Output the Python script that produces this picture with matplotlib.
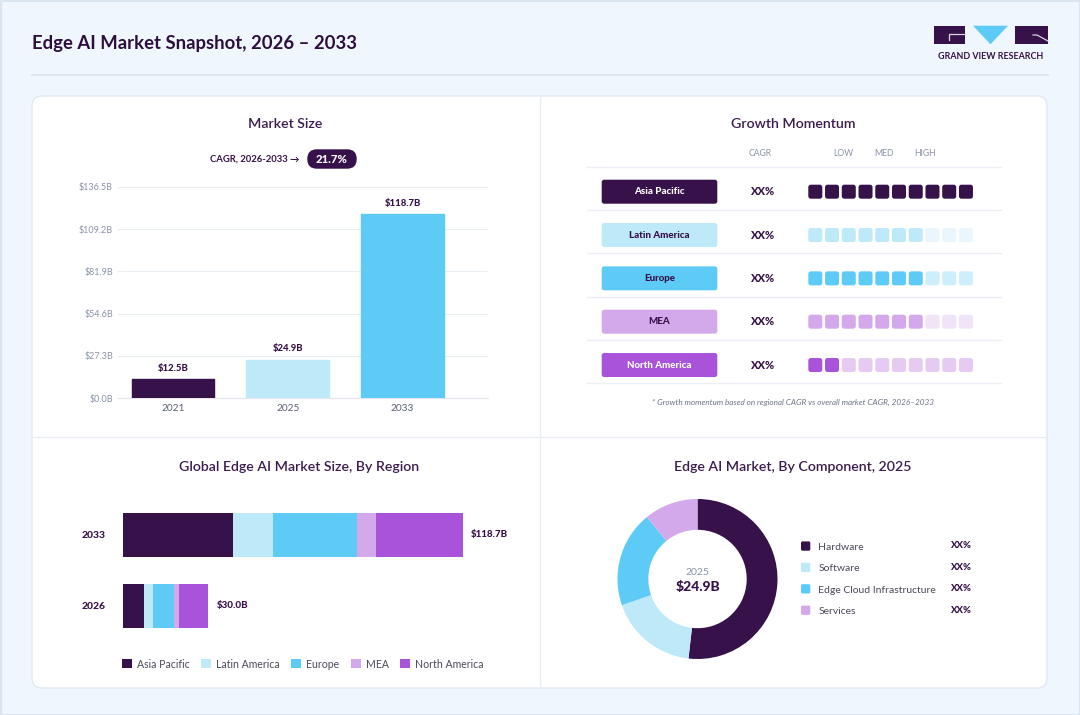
import matplotlib
matplotlib.use('Agg')
import matplotlib.pyplot as plt
from matplotlib.patches import FancyBboxPatch, Rectangle, Polygon

plt.rcParams['font.family'] = ['Lato', 'DejaVu Sans']

# ---------------- data ----------------
years = ['2021', '2025', '2033']
market_size = [12.5, 24.9, 118.7]
market_labels = ['$12.5B', '$24.9B', '$118.7B']
y_ticks = [0.0, 27.3, 54.6, 81.9, 109.2, 136.5]
cagr_text = 'CAGR, 2026-2033 \u2192'
cagr_value = '21.7%'

regions = ['Asia Pacific', 'Latin America', 'Europe', 'MEA', 'North America']
momentum_filled = [10, 7, 7, 7, 2]
momentum_total = 10
region_cagr = ['XX%', 'XX%', 'XX%', 'XX%', 'XX%']
momentum_headers = ['LOW', 'MED', 'HIGH']

stack_years = ['2026', '2033']
stack_values = {
    '2026': [7.3, 3.4, 7.1, 1.7, 10.4],
    '2033': [38.4, 13.9, 29.6, 6.4, 30.5],
}
stack_totals = {'2026': '$30.0B', '2033': '$118.7B'}

components = ['Hardware', 'Software', 'Edge Cloud Infrastructure', 'Services']
component_share = [51.8, 17.9, 19.4, 10.9]
component_labels = ['XX%', 'XX%', 'XX%', 'XX%']
donut_year = '2025'
donut_total = '$24.9B'

# ---------------- styles ----------------
DARK = '#371149'
LIGHT = '#bde9f9'
SKY = '#5ecbf6'
LAV = '#d4a9ec'
PURP = '#a853da'
region_colors = [DARK, LIGHT, SKY, LAV, PURP]
region_empty = [DARK, '#eaf6fd', '#cdeefb', '#f1e3f8', '#e6caf2']
region_text = ['white', DARK, DARK, DARK, 'white']
comp_colors = [DARK, LIGHT, SKY, LAV]
TITLE_C = '#3b1d4f'
GRAY = '#8a93a6'
BG = '#eff6fd'
HEAVY = 'black'

W, H = 1080, 715
fig = plt.figure(figsize=(W / 100, H / 100), dpi=100, facecolor=BG)


def rect(l, t, r, b):
    return [l / W, 1 - b / H, (r - l) / W, (b - t) / H]


bg = fig.add_axes([0, 0, 1, 1])
bg.set_xlim(0, W)
bg.set_ylim(H, 0)
bg.axis('off')

# frame and card
bg.add_patch(Rectangle((0.5, 0.5), W - 1, H - 1, fill=False, edgecolor='#dbe5f0', lw=1.5))
bg.add_patch(FancyBboxPatch((32, 96), 1015, 592, boxstyle='round,pad=0,rounding_size=10',
                            facecolor='white', edgecolor='#e1e8f1', lw=1))
bg.plot([540, 540], [97, 687], color='#e9edf3', lw=1)
bg.plot([33, 1046], [437, 437], color='#e9edf3', lw=1)

# header
bg.text(32, 44, 'Edge AI Market Snapshot, 2026 \u2013 2033', ha='left', va='center',
        fontsize=13.3, fontweight='bold', color='#2d0f3f')
bg.plot([32, 1048], [75, 75], color='#dde4ee', lw=1.3)

# logo
bg.add_patch(Rectangle((934, 25.7), 31, 18.6, facecolor=DARK, edgecolor='none'))
bg.plot([949.3, 949.3, 965], [40, 34.3, 34.3], color='#d9d2e0', lw=0.9)
bg.add_patch(Polygon([(973, 25.7), (1008, 25.7), (990.5, 44.3)], closed=True,
                     facecolor=SKY, edgecolor='none'))
bg.add_patch(Rectangle((1015, 25.7), 33, 18.6, facecolor=DARK, edgecolor='none'))
bg.plot([1033, 1037, 1048], [35, 35, 41], color='#d9d2e0', lw=0.9)
bg.text(991, 56.7, 'GRAND VIEW RESEARCH', ha='center', va='center', fontsize=6.4,
        fontweight='bold', color=DARK)

# ---------------- Market size ----------------
bg.text(285, 124, 'Market Size', ha='center', va='center', fontsize=10.2,
        fontweight='semibold', color=TITLE_C)
bg.text(300, 159, cagr_text, ha='right', va='center', fontsize=6.8,
        fontweight='bold', color=DARK)
bg.add_patch(FancyBboxPatch((307.3, 149.3), 49.4, 19.4, boxstyle='round,pad=0,rounding_size=9.5',
                            facecolor=DARK, edgecolor='none'))
bg.text(332, 159.3, cagr_value, ha='center', va='center', fontsize=8.2,
        fontweight=HEAVY, color='white')

ax1 = fig.add_axes(rect(118, 186.7, 488, 398.3))
xs = list(range(len(years)))
bars = ax1.bar(xs, market_size, width=0.72, color=region_colors[:3],
               edgecolor=region_colors[:3], linewidth=1.0, joinstyle='round', zorder=3)
ax1.set_xlim(-0.478, 2.743)
ax1.set_ylim(0, 136.5)
ax1.set_yticks(y_ticks)
ax1.set_yticklabels([f'${v:.1f}B' for v in y_ticks])
ax1.set_xticks(xs)
ax1.set_xticklabels(years)
ax1.tick_params(axis='y', length=0, pad=3.6, labelsize=6.5, labelcolor=GRAY)
ax1.tick_params(axis='x', length=0, pad=4.0, labelsize=7.3, labelcolor='#5a6275')
ax1.grid(axis='y', color='#e9eef5', lw=0.8, zorder=0)
for s in ['top', 'right', 'left']:
    ax1.spines[s].set_visible(False)
ax1.spines['bottom'].set_color('#e3e8f0')
ax1.set_facecolor('none')
for x, v, lab in zip(xs, market_size, market_labels):
    ax1.annotate(lab, (x, v), xytext=(0, 4.5), textcoords='offset points',
                 ha='center', va='bottom', fontsize=6.8, fontweight=HEAVY, color=DARK)

# ---------------- Growth momentum ----------------
bg.text(793, 124, 'Growth Momentum', ha='center', va='center', fontsize=10.2,
        fontweight='semibold', color=TITLE_C)
bg.text(760, 153.7, 'CAGR', ha='center', va='center', fontsize=6.2, color=GRAY)
for hx, htxt in zip([843.7, 883.7, 925], momentum_headers):
    bg.text(hx, 153.7, htxt, ha='center', va='center', fontsize=6.2, color=GRAY)
row_h = 43.33
for k in range(len(regions) + 1):
    yy = 166.7 + k * row_h
    bg.plot([586.7, 1001], [yy, yy], color='#eceff5', lw=1)
for i, (reg, nfill, cg) in enumerate(zip(regions, momentum_filled, region_cagr)):
    cy = 191.7 + i * row_h
    bg.add_patch(FancyBboxPatch((601.7, cy - 12), 115.6, 24, boxstyle='round,pad=0,rounding_size=2.5',
                                facecolor=region_colors[i], edgecolor='none'))
    bg.text(659.5, cy, reg, ha='center', va='center', fontsize=7, fontweight=HEAVY,
            color=region_text[i])
    bg.text(762, cy, cg, ha='center', va='center', fontsize=8, fontweight=HEAVY, color=DARK)
    for j in range(momentum_total):
        col = region_colors[i] if j < nfill else region_empty[i]
        bg.add_patch(FancyBboxPatch((808.3 + j * 16.74, cy - 7), 14, 14,
                                    boxstyle='round,pad=0,rounding_size=2.5',
                                    facecolor=col, edgecolor='none'))
bg.text(793, 402.7, '* Growth momentum based on regional CAGR vs overall market CAGR, 2026\u20132033',
        ha='center', va='center', fontsize=5.9, style='italic', color='#6b7385')

# ---------------- Stacked bars by region ----------------
bg.text(299, 466.7, 'Global Edge AI Market Size, By Region', ha='center', va='center',
        fontsize=10.2, fontweight='semibold', color=TITLE_C)
ax3 = fig.add_axes(rect(122.7, 500, 500, 640))
ax3.set_facecolor('none')
ypos = list(range(len(stack_years)))
lefts = [0.0] * len(stack_years)
handles = []
for r, reg in enumerate(regions):
    vals = [stack_values[y][r] for y in stack_years]
    h = ax3.barh(ypos, vals, left=lefts, height=0.62, color=region_colors[r],
                 edgecolor='none', label=reg)
    handles.append(h)
    lefts = [a + b for a, b in zip(lefts, vals)]
for yp, y, tot in zip(ypos, stack_years, lefts):
    ax3.text(tot + 2.8, yp, stack_totals[y], ha='left', va='center', fontsize=7,
             fontweight=HEAVY, color=DARK)
ax3.set_xlim(0, 131.72)
ax3.set_ylim(-0.479, 1.493)
ax3.set_yticks(ypos)
ax3.set_yticklabels(stack_years)
ax3.tick_params(axis='y', length=0, pad=12, labelsize=7.5, labelcolor=DARK)
for lab in ax3.get_yticklabels():
    lab.set_fontweight(HEAVY)
ax3.set_xticks([])
for s in ax3.spines.values():
    s.set_visible(False)
leg = ax3.legend(handles=handles, labels=regions, loc='center',
                 bbox_to_anchor=(303 / W, 1 - 664 / H), bbox_transform=fig.transFigure,
                 ncol=5, frameon=False, handlelength=0.9, handleheight=0.9,
                 handletextpad=0.5, columnspacing=1.1, fontsize=7.6)
for t in leg.get_texts():
    t.set_color('#4a4a5a')

# ---------------- Donut ----------------
bg.text(793, 466.7, 'Edge AI Market, By Component, 2025', ha='center', va='center',
        fontsize=10.2, fontweight='semibold', color=TITLE_C)
ax4 = fig.add_axes(rect(612.5, 494, 782.5, 664))
ax4.pie(component_share, colors=comp_colors, startangle=90, counterclock=False,
        radius=1.0, wedgeprops=dict(width=0.385, edgecolor='none', linewidth=0))
ax4.set_xlim(-1.0625, 1.0625)
ax4.set_ylim(-1.0625, 1.0625)
ax4.set_aspect('equal')
ax4.text(0, 0.08, donut_year, ha='center', va='center', fontsize=7.5, color=GRAY)
ax4.text(0, -0.10, donut_total, ha='center', va='center', fontsize=10,
         fontweight=HEAVY, color=DARK)

for i, (comp, lab) in enumerate(zip(components, component_labels)):
    cy = 546 + i * 21.4
    bg.add_patch(FancyBboxPatch((801, cy - 4.6), 9.3, 9.3, boxstyle='round,pad=0,rounding_size=1.5',
                                facecolor=comp_colors[i], edgecolor='none'))
    bg.text(818.3, cy + 1.5, comp, ha='left', va='center', fontsize=7.5, color='#4a4a5a')
    bg.text(970.7, cy, lab, ha='right', va='center', fontsize=6.8, fontweight=HEAVY, color=DARK)

fig.savefig('out.png', dpi=100, facecolor=BG)
